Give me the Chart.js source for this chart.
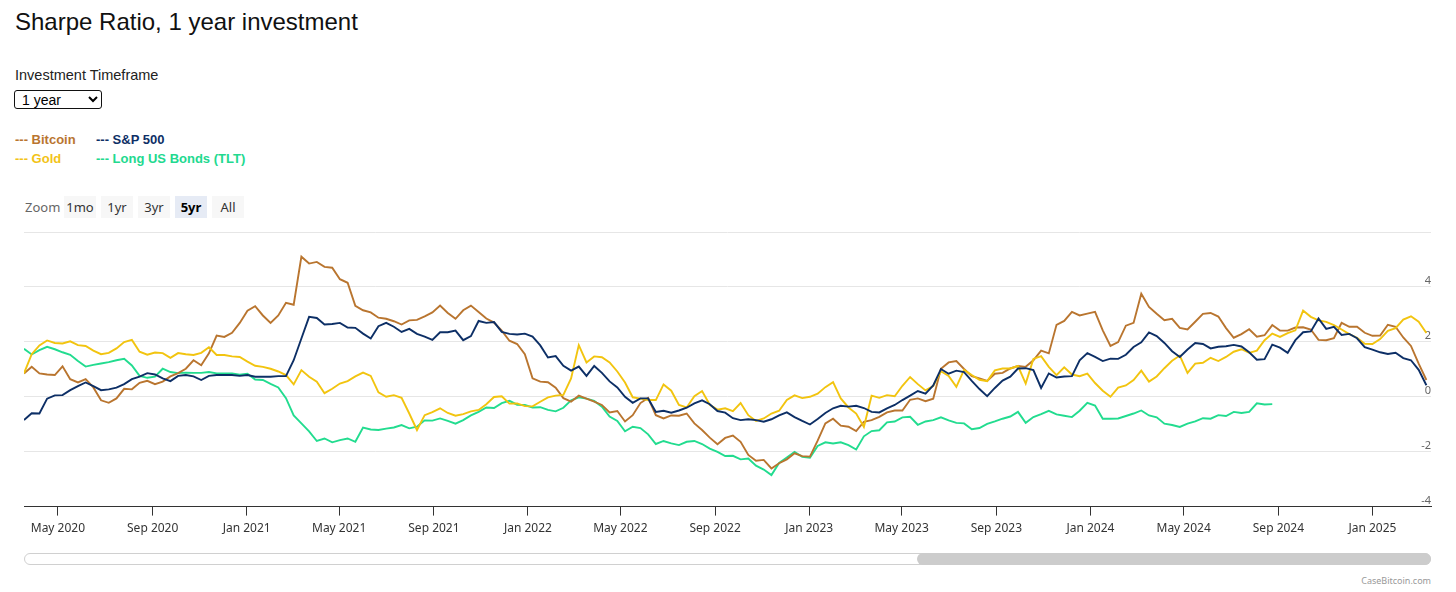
<!DOCTYPE html>
<html>
<head>
<meta charset="utf-8">
<title>Sharpe Ratio, 1 year investment</title>
<script src="https://cdn.jsdelivr.net/npm/chart.js@4.4.1/dist/chart.umd.min.js"></script>
<style>
    body {
        margin: 0;
        width: 1456px;
        height: 592px;
        overflow: hidden;
        position: relative;
        background: #fff;
        font-family: "Liberation Sans", Arial, sans-serif;
    }
    h1 {
        position: absolute;
        left: 15px;
        top: 8px;
        margin: 0;
        font-size: 24px;
        font-weight: normal;
        color: #111;
    }
    .tf-label {
        position: absolute;
        left: 15px;
        top: 67px;
        font-size: 14.5px;
        color: #222;
    }
    #timeframe {
        position: absolute;
        left: 14px;
        top: 90px;
        width: 88px;
        height: 19px;
        font-size: 14px;
        font-family: "Liberation Sans", Arial, sans-serif;
        border: 1.5px solid #111;
        border-radius: 3px;
        background: #fff;
        color: #000;
        padding: 0 0 0 3px;
    }
    .legend {
        position: absolute;
        left: 15px;
        top: 132px;
        display: grid;
        grid-template-columns: 81px auto;
        row-gap: 4px;
        font-size: 13px;
        line-height: 15px;
        font-weight: bold;
    }
    .zoom {
        position: absolute;
        left: 25px;
        top: 196px;
        display: flex;
        align-items: center;
        font-family: "Noto Sans", "Open Sans", sans-serif;
        font-size: 13px;
    }
    .zoom .lbl { color: #666; width: 39px; }
    .zoom .btn {
        width: 32px;
        height: 22px;
        line-height: 22px;
        text-align: center;
        margin-right: 5px;
        background: #f7f7f7;
        color: #333;
    }
    .zoom .btn.active { background: #e6ebf5; font-weight: bold; color: #000; }
    #chart-wrap {
        position: absolute;
        left: 0;
        top: 220px;
        width: 1456px;
        height: 325px;
    }
    .scroll-track {
        position: absolute;
        left: 24px;
        top: 553px;
        width: 1405px;
        height: 10px;
        border: 1px solid #d0d0d0;
        border-radius: 6px;
        background: #fff;
    }
    .scroll-thumb {
        position: absolute;
        left: 917px;
        top: 553px;
        width: 514px;
        height: 12px;
        border-radius: 6px;
        background: #cccccc;
    }
    .credits {
        position: absolute;
        right: 25px;
        top: 574px;
        font-family: "Noto Sans", "Open Sans", sans-serif;
        font-size: 9px;
        color: #999;
    }
</style>
</head>
<body>
<h1>Sharpe Ratio, 1 year investment</h1>
<div class="tf-label">Investment Timeframe</div>
<select id="timeframe"><option>1 year</option><option>2 years</option><option>4 years</option></select>

<div class="legend">
    <span style="color:#b9752f">--- Bitcoin</span>
    <span style="color:#0d2f66">--- S&amp;P 500</span>
    <span style="color:#f2c318">--- Gold</span>
    <span style="color:#22d98f">--- Long US Bonds (TLT)</span>
</div>

<div class="zoom">
    <span class="lbl">Zoom</span>
    <span class="btn">1mo</span>
    <span class="btn">1yr</span>
    <span class="btn">3yr</span>
    <span class="btn active">5yr</span>
    <span class="btn">All</span>
</div>

<div id="chart-wrap"><canvas id="sharpe-chart"></canvas></div>

<div class="scroll-track"></div>
<div class="scroll-thumb"></div>
<div class="credits">CaseBitcoin.com</div>

<script>
// Sampling: one value every 10 days starting 18 Mar 2020
const START_DATE = '2020-03-18';
const STEP_DAYS = 10;
const RANGE_START = '2020-03-18';
const RANGE_END = '2025-03-18';

const TICK_DATES = ['2020-05-01', '2020-09-01', '2021-01-01', '2021-05-01', '2021-09-01',
    '2022-01-01', '2022-05-01', '2022-09-01', '2023-01-01', '2023-05-01', '2023-09-01',
    '2024-01-01', '2024-05-01', '2024-09-01', '2025-01-01'];
const TICK_LABELS = ['May 2020', 'Sep 2020', 'Jan 2021', 'May 2021', 'Sep 2021',
    'Jan 2022', 'May 2022', 'Sep 2022', 'Jan 2023', 'May 2023', 'Sep 2023',
    'Jan 2024', 'May 2024', 'Sep 2024', 'Jan 2025'];
const Y_TICKS = [-4, -2, 0, 2, 4, 6];

const bitcoin = [
    0.85, 1.09, 0.85, 0.81, 0.79, 1.11, 0.64, 0.52, 0.64, 0.34,
    -0.13, -0.22, -0.06, 0.29, 0.27, 0.51, 0.58, 0.46, 0.55, 0.74,
    0.86, 1.02, 1.33, 1.15, 1.58, 2.23, 2.18, 2.33, 2.69, 3.13,
    3.30, 2.96, 2.69, 2.96, 3.42, 3.35, 5.10, 4.85, 4.91, 4.73,
    4.70, 4.28, 4.15, 3.31, 3.15, 3.07, 2.88, 2.84, 2.75, 2.63,
    2.78, 2.80, 2.93, 3.07, 3.32, 3.05, 2.84, 3.15, 3.32, 3.09,
    2.85, 2.70, 2.41, 2.04, 1.92, 1.55, 0.67, 0.55, 0.53, 0.33,
    -0.05, -0.18, 0.04, -0.07, -0.18, -0.30, -0.57, -0.52, -0.90, -0.67,
    -0.23, -0.04, -0.67, -0.79, -0.68, -0.69, -0.61, -0.97, -1.21, -1.49,
    -1.73, -1.50, -1.41, -1.64, -2.12, -2.33, -2.30, -2.61, -2.42, -2.28,
    -2.06, -2.16, -2.18, -1.60, -0.97, -0.80, -1.05, -1.09, -1.25, -0.91,
    -0.85, -0.73, -0.57, -0.50, -0.50, -0.11, -0.06, -0.16, -0.07, 1.02,
    1.25, 1.30, 1.01, 0.75, 0.67, 0.58, 0.84, 0.87, 1.03, 1.12,
    1.09, 1.33, 1.68, 1.58, 2.62, 2.76, 3.09, 2.96, 3.03, 3.09,
    2.42, 1.85, 1.99, 2.59, 2.69, 3.75, 3.27, 3.02, 2.79, 2.84,
    2.51, 2.45, 2.73, 3.02, 3.05, 2.92, 2.50, 2.15, 2.28, 2.46,
    2.19, 2.24, 2.61, 2.41, 2.41, 2.52, 2.53, 2.45, 2.07, 2.06,
    2.13, 2.69, 2.55, 2.55, 2.33, 2.22, 2.23, 2.62, 2.55, 2.16,
    1.85, 1.21, 0.61
];

const sp500 = [
    -0.85, -0.60, -0.61, -0.07, 0.05, 0.06, 0.24, 0.39, 0.52, 0.39,
    0.24, 0.27, 0.33, 0.46, 0.64, 0.73, 0.86, 0.81, 0.67, 0.57,
    0.76, 0.79, 0.74, 0.61, 0.76, 0.79, 0.79, 0.79, 0.76, 0.79,
    0.73, 0.73, 0.73, 0.75, 0.75, 1.33, 2.12, 2.91, 2.87, 2.63,
    2.65, 2.69, 2.52, 2.51, 2.30, 2.12, 2.57, 2.69, 2.55, 2.36,
    2.47, 2.29, 2.19, 2.07, 2.35, 2.35, 2.41, 2.06, 2.21, 2.76,
    2.69, 2.72, 2.36, 2.29, 2.27, 2.30, 2.19, 1.87, 1.43, 1.48,
    1.13, 0.95, 1.10, 0.76, 1.12, 0.87, 0.56, 0.34, 0.00, -0.22,
    -0.06, -0.06, -0.55, -0.51, -0.58, -0.50, -0.40, -0.24, -0.13, -0.27,
    -0.52, -0.58, -0.78, -0.85, -0.82, -0.85, -0.91, -0.82, -0.68, -0.57,
    -0.74, -0.88, -1.01, -0.81, -0.59, -0.42, -0.33, -0.36, -0.33, -0.41,
    -0.55, -0.57, -0.42, -0.30, -0.12, 0.04, 0.21, 0.11, 0.41, 1.01,
    0.84, 0.95, 0.90, 0.58, 0.28, 0.02, 0.32, 0.59, 0.73, 1.03,
    1.04, 0.97, 0.32, 0.85, 0.70, 0.74, 0.75, 1.33, 1.59, 1.45,
    1.30, 1.39, 1.38, 1.53, 1.81, 1.98, 2.34, 2.21, 1.96, 1.66,
    1.45, 1.72, 1.96, 1.92, 1.76, 1.82, 1.84, 1.89, 1.83, 1.62,
    1.35, 1.37, 1.90, 1.79, 1.60, 2.06, 2.35, 2.38, 2.85, 2.47,
    2.55, 2.25, 2.29, 2.13, 1.81, 1.72, 1.62, 1.56, 1.60, 1.41,
    1.33, 0.98, 0.42
];

const gold = [
    0.85, 1.55, 1.87, 2.05, 1.96, 1.94, 2.02, 1.88, 1.85, 1.68,
    1.55, 1.60, 1.76, 1.99, 2.07, 1.64, 1.53, 1.61, 1.59, 1.42,
    1.59, 1.55, 1.52, 1.60, 1.80, 1.52, 1.52, 1.47, 1.45, 1.28,
    1.13, 1.09, 1.02, 0.92, 0.79, 0.45, 0.97, 0.73, 0.55, 0.13,
    0.29, 0.48, 0.57, 0.74, 0.88, 0.76, 0.16, 0.00, 0.06, -0.04,
    -0.61, -1.21, -0.67, -0.56, -0.42, -0.59, -0.69, -0.63, -0.53, -0.48,
    -0.27, -0.01, 0.02, -0.25, -0.24, -0.34, -0.35, -0.18, -0.02, 0.04,
    0.07, 0.67, 1.88, 1.25, 1.47, 1.44, 1.25, 0.92, 0.52, -0.02,
    -0.07, -0.12, -0.12, 0.45, 0.22, -0.30, -0.39, 0.02, 0.21, -0.29,
    -0.47, -0.42, -0.52, -0.23, -0.67, -0.88, -0.79, -0.61, -0.51, -0.12,
    0.05, -0.05, 0.00, 0.11, 0.35, 0.53, -0.06, -0.39, -0.61, -1.10,
    0.04, -0.04, 0.06, 0.02, 0.40, 0.72, 0.46, 0.23, 0.39, 0.93,
    0.76, 0.36, 0.98, 0.79, 0.62, 0.57, 0.96, 1.03, 1.03, 1.12,
    0.48, 1.38, 1.48, 1.09, 0.79, 1.07, 0.81, 0.75, 0.84, 0.50,
    0.22, 0.00, 0.33, 0.41, 0.61, 0.95, 0.55, 0.74, 1.04, 1.31,
    1.50, 0.87, 1.21, 1.24, 1.42, 1.30, 1.45, 1.64, 1.73, 1.60,
    1.68, 2.06, 2.30, 2.18, 2.32, 2.42, 3.14, 2.91, 2.78, 2.73,
    2.61, 2.45, 2.28, 2.15, 1.93, 1.92, 2.10, 2.40, 2.50, 2.81,
    2.93, 2.73, 2.32
];

// TLT series stops in late Aug 2024
const longBonds = [
    1.75, 1.54, 1.70, 1.82, 1.73, 1.62, 1.53, 1.30, 1.10, 1.16,
    1.21, 1.26, 1.33, 1.38, 1.14, 0.76, 0.69, 0.73, 1.02, 0.90,
    0.86, 0.88, 0.87, 0.87, 0.90, 0.85, 0.85, 0.85, 0.80, 0.84,
    0.63, 0.61, 0.47, 0.34, -0.05, -0.68, -0.97, -1.26, -1.61, -1.52,
    -1.66, -1.58, -1.52, -1.64, -1.12, -1.19, -1.21, -1.16, -1.12, -1.03,
    -1.15, -1.09, -0.86, -0.87, -0.79, -0.88, -0.98, -0.85, -0.68, -0.55,
    -0.39, -0.41, -0.23, -0.15, -0.29, -0.30, -0.39, -0.38, -0.48, -0.53,
    -0.40, -0.13, -0.02, -0.07, -0.15, -0.36, -0.72, -0.88, -1.26, -1.09,
    -1.14, -1.37, -1.72, -1.61, -1.70, -1.76, -1.64, -1.61, -1.72, -1.89,
    -2.01, -2.16, -2.15, -2.28, -2.25, -2.51, -2.65, -2.85, -2.41, -2.21,
    -2.01, -2.19, -2.22, -1.79, -1.66, -1.70, -1.66, -1.76, -1.92, -1.44,
    -1.25, -1.22, -0.93, -0.90, -0.75, -0.73, -1.02, -0.90, -0.85, -0.75,
    -0.86, -0.95, -0.97, -1.18, -1.14, -0.99, -0.90, -0.80, -0.72, -0.55,
    -0.95, -0.74, -0.63, -0.51, -0.64, -0.69, -0.74, -0.51, -0.22, -0.32,
    -0.80, -0.80, -0.79, -0.70, -0.61, -0.50, -0.68, -0.75, -0.98, -1.03,
    -1.10, -0.98, -0.90, -0.78, -0.80, -0.67, -0.70, -0.55, -0.59, -0.55,
    -0.24, -0.28, -0.27
];

const DAY_MS = 24 * 60 * 60 * 1000;

class SharpeChart {
    constructor(canvasId) {
        this.canvas = document.getElementById(canvasId);
        this.dates = this.buildDates(bitcoin.length);
        this.chart = this.createChart();
    }

    buildDates(count) {
        const start = Date.parse(START_DATE);
        const dates = [];
        for (let i = 0; i < count; i++) {
            dates.push(start + i * STEP_DAYS * DAY_MS);
        }
        return dates;
    }

    toPoints(values) {
        return values.map((v, i) => ({ x: this.dates[i], y: v }));
    }

    series(label, values, color) {
        return {
            label: label,
            data: this.toPoints(values),
            borderColor: color,
            borderWidth: 1.9,
            pointRadius: 0,
            tension: 0,
            fill: false
        };
    }

    createChart() {
        // first dataset is drawn on top
        const datasets = [
            this.series('S&P 500', sp500, '#0d2f66'),
            this.series('Gold', gold, '#f2c40f'),
            this.series('Bitcoin', bitcoin, '#b9752f'),
            this.series('Long US Bonds (TLT)', longBonds, '#22dc8f')
        ];

        return new Chart(this.canvas, {
            type: 'line',
            data: { datasets: datasets },
            options: {
                responsive: true,
                maintainAspectRatio: false,
                animation: false,
                layout: { padding: { left: 24, right: 25, top: 12, bottom: 3 } },
                plugins: {
                    legend: { display: false },
                    tooltip: { enabled: false }
                },
                scales: {
                    x: {
                        type: 'linear',
                        min: Date.parse(RANGE_START),
                        max: Date.parse(RANGE_END),
                        afterBuildTicks: axis => {
                            axis.ticks = TICK_DATES.map(d => ({ value: Date.parse(d) }));
                        },
                        ticks: {
                            autoSkip: false,
                            maxRotation: 0,
                            padding: 6,
                            color: '#333',
                            font: { family: '"Noto Sans", "Open Sans", sans-serif', size: 12 },
                            callback: (value, index) => TICK_LABELS[index]
                        },
                        grid: {
                            drawOnChartArea: false,
                            drawTicks: true,
                            tickLength: 9,
                            tickColor: '#333',
                            color: '#333'
                        },
                        border: { display: true, color: '#333', width: 1 }
                    },
                    y: {
                        position: 'right',
                        min: -4,
                        max: 6,
                        afterBuildTicks: axis => {
                            axis.ticks = Y_TICKS.map(v => ({ value: v }));
                        },
                        ticks: {
                            mirror: true,
                            padding: 0,
                            labelOffset: -6,
                            color: '#666',
                            font: { family: '"Noto Sans", "Open Sans", sans-serif', size: 11 },
                            callback: v => (v === 6 ? '' : String(v))
                        },
                        grid: { color: '#e6e6e6', lineWidth: 1, drawTicks: false },
                        border: { display: false }
                    }
                }
            }
        });
    }
}

document.addEventListener('DOMContentLoaded', () => {
    new SharpeChart('sharpe-chart');
});
</script>
</body>
</html>
